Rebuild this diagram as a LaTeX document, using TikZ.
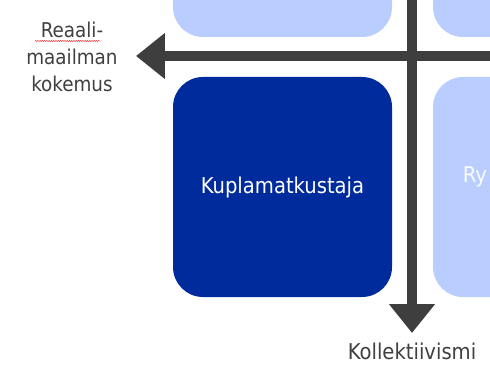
\documentclass[tikz,border=0pt]{standalone}
\usepackage{fontspec}
\setmainfont{DejaVu Sans Condensed}
\usetikzlibrary{arrows.meta,decorations.pathmorphing}
\definecolor{darkbox}{RGB}{0,43,156}
\definecolor{lightbox}{RGB}{186,205,255}
\definecolor{axisgray}{RGB}{62,62,62}
\definecolor{textgray}{RGB}{64,64,64}
\tikzset{
  axis/.style={draw=axisgray, line width=0.25cm, -{Triangle[length=0.72cm,width=1.1cm]}},
  axislabel/.style={text=textgray, font=\fontsize{14.5}{19.3}\selectfont, align=center},
  boxtext/.style={text=white, font=\fontsize{15.5}{18}\selectfont}
}
\begin{document}
\begin{tikzpicture}
\useasboundingbox (0,0) rectangle (12.25,9.125);
\clip (0,0) rectangle (12.25,9.125);
% Upper boxes
\fill[lightbox, rounded corners=0.75cm] (4.325,8.2) rectangle (9.8,13.7);
\fill[lightbox, rounded corners=0.75cm] (10.825,8.2) rectangle (16.3,13.7);
% Kuplamatkustaja
\fill[darkbox, rounded corners=0.75cm] (4.325,1.7) rectangle (9.8,7.2) node[midway, boxtext] (kupla) {Kuplamatkustaja};
% Right box
\fill[lightbox, rounded corners=0.75cm] (10.825,1.7) rectangle (16.3,7.2);
\node[boxtext, text=white!92!lightbox, anchor=west] (ry) at (11.45,4.7) {Ry};
% Horizontal axis and its label
\coordinate (east) at (13,7.725);
\coordinate (west) at (3.4,7.725);
\draw[axis] (east) -- (west);
\node[axislabel] (real) at (1.8,7.7) {Reaali-\\maailman\\kokemus};
\draw[red, line width=0.3pt, decorate, decoration={snake, amplitude=0.35pt, segment length=1.6pt}] (0.875,8.1) -- (2.5,8.1);
% Vertical axis and its label
\coordinate (north) at (10.3,9.6);
\coordinate (south) at (10.3,0.8);
\draw[axis] (north) -- (south);
\node[axislabel, font=\fontsize{15.5}{19}\selectfont] (koll) at (10.3,0.33) {Kollektiivismi};
\end{tikzpicture}
\end{document}
